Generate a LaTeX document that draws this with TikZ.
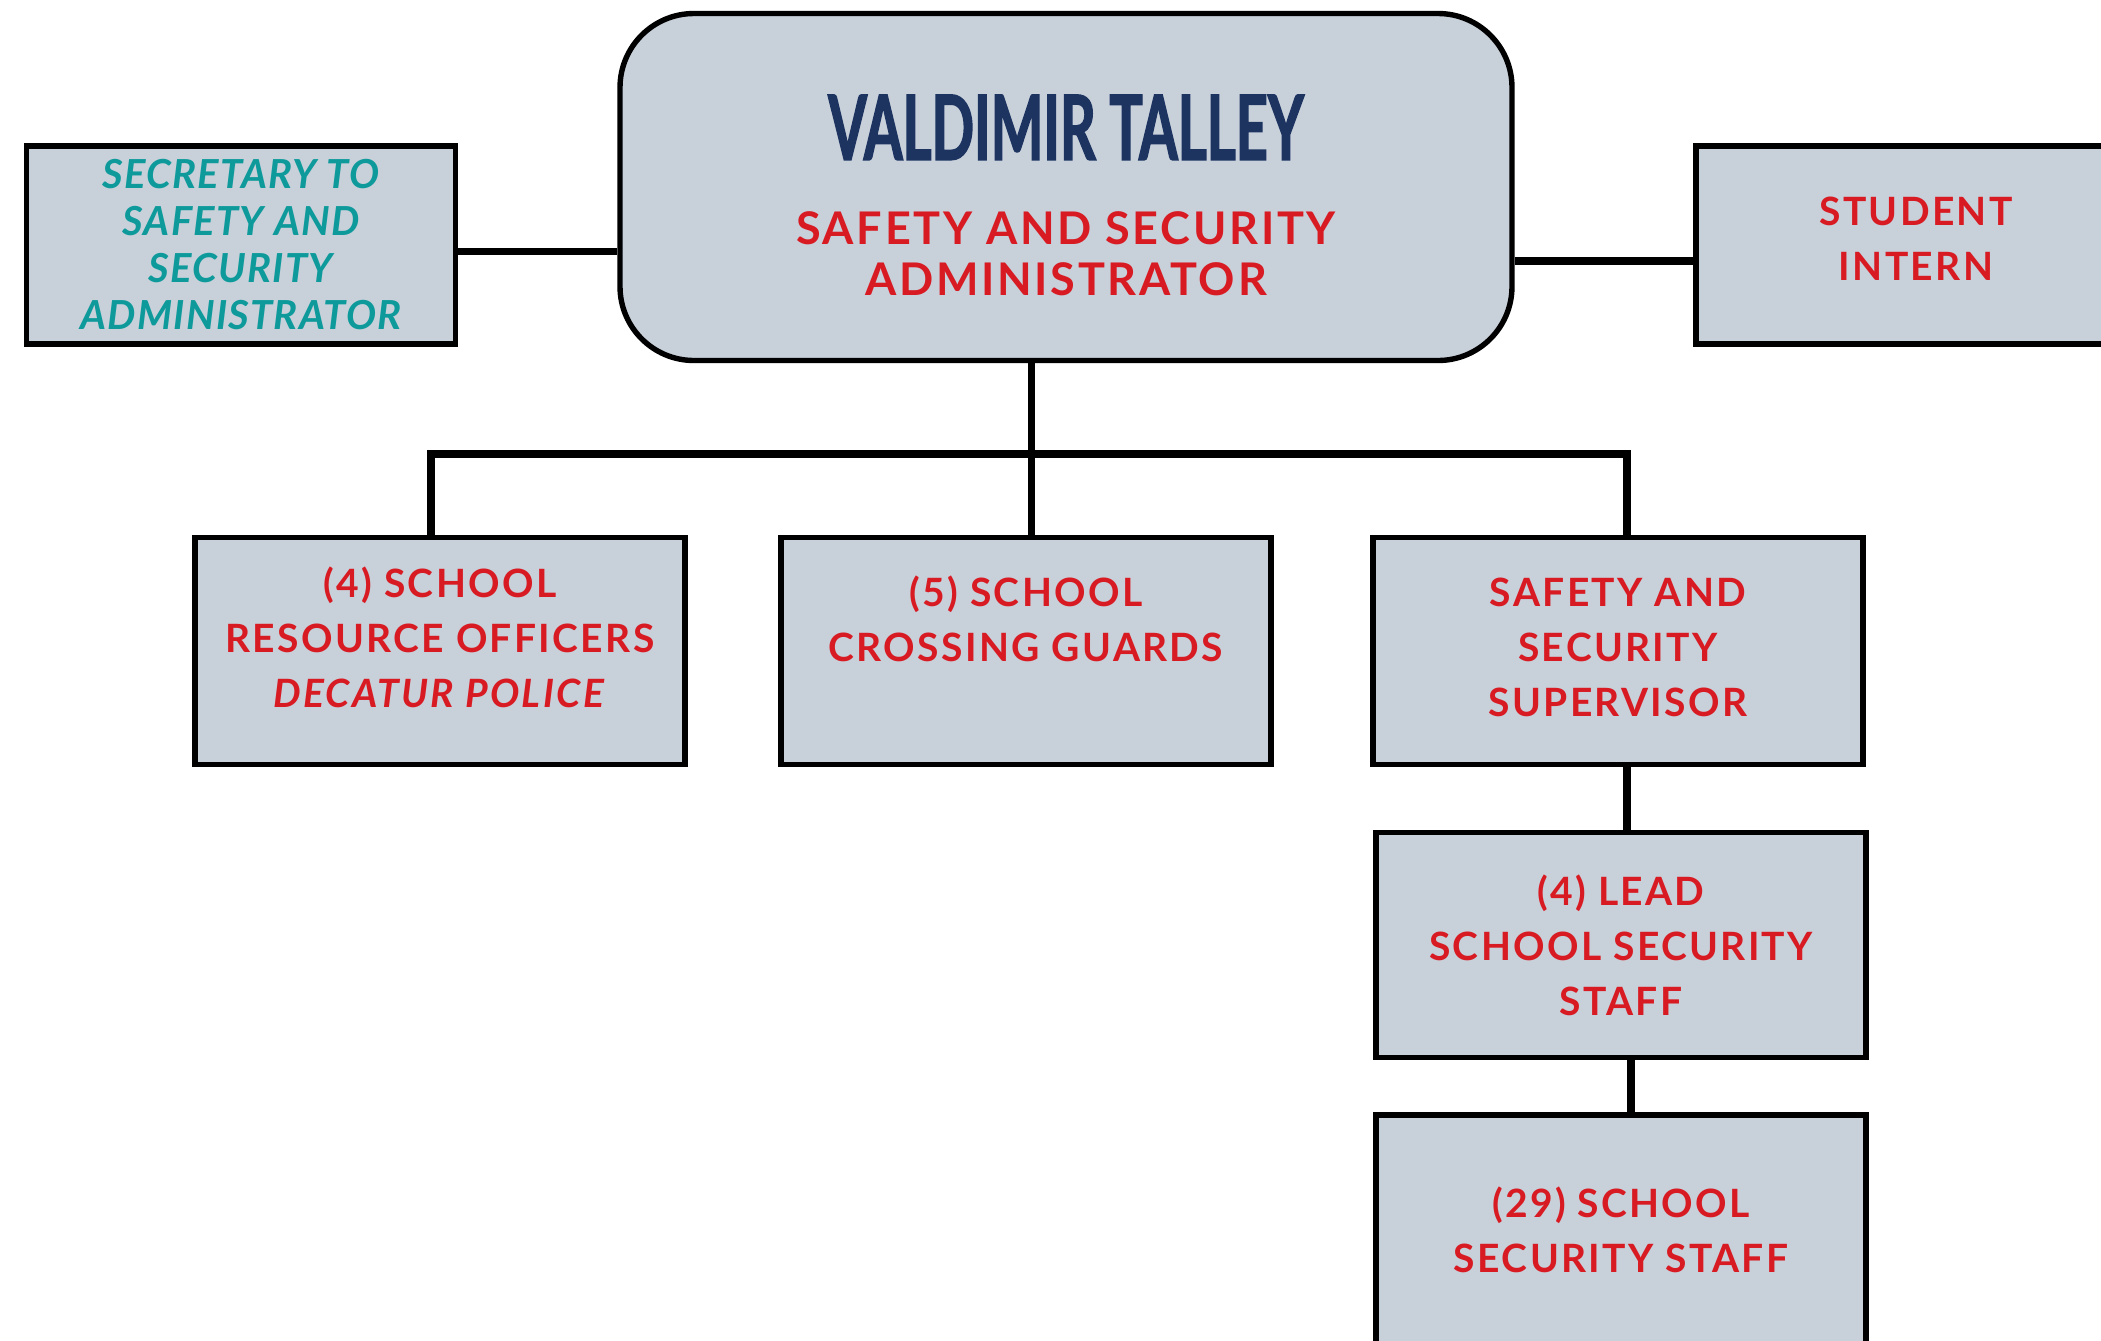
\documentclass[tikz,border=0pt]{standalone}
\usepackage{fontspec}
\setmainfont{Lato}[LetterSpace=6]
\newfontfamily\namefont[FakeStretch=0.62,FakeBold=1.5]{Lato}
\newfontfamily\secfont[LetterSpace=3]{Lato}
\usetikzlibrary{positioning}
\definecolor{boxgray}{HTML}{C8D0DA}
\definecolor{titlered}{HTML}{D81B22}
\definecolor{secteal}{HTML}{0E9A9B}
\definecolor{namenavy}{HTML}{1D3461}
\newcommand\padbelow[1]{\rule[-#1]{0pt}{#1}}
\newcommand\padabove[1]{\rule{0pt}{#1}}

\begin{document}
\begin{tikzpicture}[x=0.5pt, y=-0.5pt,
	main/.style = {draw, fill=boxgray, line width=2.7pt, align=center, inner sep=0pt, text=titlered, font=\bfseries\fontsize{19.5}{27.5}\selectfont, minimum width=245pt, minimum height=113.5pt},
	link/.style = {draw, line width=3.6pt}]
	\useasboundingbox (0,0) rectangle (2101,1340);
	\clip (0,0) rectangle (2101,1340);
	\node[main, rounded corners=37pt, minimum width=446pt, minimum height=173.5pt, font=\bfseries\fontsize{22.5}{25.5}\selectfont] (head) at (1066,187) {\padabove{41pt}{\namefont\fontsize{45}{45}\selectfont\color{namenavy}VALDIMIR TALLEY}\\[17pt]SAFETY AND SECURITY\\ADMINISTRATOR};
	\node[main, minimum width=214.5pt, minimum height=99pt, text=secteal, font=\secfont\bfseries\itshape\fontsize{20}{23.5}\selectfont] (sec) at (241,245) {SECRETARY TO\\SAFETY AND\\SECURITY\\ADMINISTRATOR};
	\node[main, minimum width=220pt, minimum height=99pt] (intern) at (1916,245) {STUDENT\\INTERN\padbelow{6pt}};
	\node[main] (sro) at (440,651) {(4) SCHOOL\\RESOURCE OFFICERS\\\textit{DECATUR POLICE}\padbelow{13.5pt}};
	\node[main] (guards) at (1026,651) {(5) SCHOOL\\CROSSING GUARDS\padbelow{32pt}};
	\node[main] (sup) at (1618,651) {SAFETY AND\\SECURITY\\SUPERVISOR\padbelow{4pt}};
	\node[main, minimum height=112.5pt] (lead) at (1621,945) {(4) LEAD\\SCHOOL SECURITY\\STAFF};
	\node[main, minimum height=115pt] (staff) at (1621,1230) {(29) SCHOOL\\SECURITY STAFF};
	\coordinate (bar) at (0,454);
	\path[link]
	([yshift=-3.4pt]sec.east) edge ([yshift=-3.4pt]sec.east -| head.west)
	([yshift=-8pt]intern.west -| head.east) edge ([yshift=-8pt]intern.west)
	([xshift=2.7pt]head.south -| guards.north) edge ([xshift=2.7pt]guards.north)
	([xshift=4.5pt]sup.south) edge ([xshift=4.5pt]sup.south |- lead.north)
	([xshift=5pt]lead.south) edge ([xshift=5pt]lead.south |- staff.north);
	\draw[link] ([xshift=-4.5pt]sro.north) |- ([xshift=4.5pt]bar -| sup.north) -- ([xshift=4.5pt]sup.north);
\end{tikzpicture}
\end{document}
